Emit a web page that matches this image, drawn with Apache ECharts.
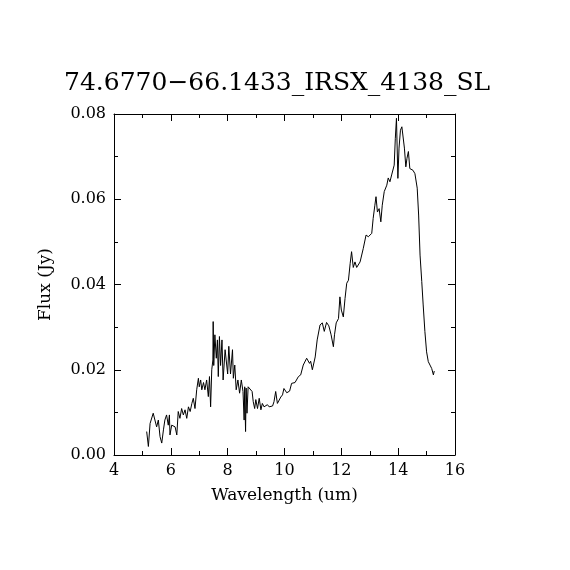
<!DOCTYPE html>
<html>
<head>
<meta charset="utf-8">
<script src="https://cdn.jsdelivr.net/npm/echarts@6/dist/echarts.min.js"></script>
<style>
  html, body { margin: 0; padding: 0; background: #fff; }
  #chart { width: 570px; height: 570px; }
</style>
</head>
<body>
<div id="chart"></div>
<script>
const chartTitle = '74.6770\u221266.1433_IRSX_4138_SL';

// wavelength (um)
const wavelength = [
  5.15, 5.21, 5.27, 5.38, 5.44, 5.50, 5.56, 5.62, 5.68, 5.74, 5.79, 5.85, 5.91, 5.95, 5.97,
  6.03, 6.09, 6.15, 6.21, 6.26, 6.32, 6.38, 6.44, 6.50, 6.56, 6.62, 6.68, 6.74, 6.79, 6.85,
  6.91, 6.97, 7.00, 7.05, 7.09, 7.15, 7.20, 7.26, 7.32, 7.36, 7.40, 7.44, 7.48, 7.49, 7.51,
  7.55, 7.60, 7.64, 7.67, 7.71, 7.75, 7.80, 7.84, 7.91, 7.96, 8.00, 8.04, 8.10, 8.17, 8.20,
  8.25, 8.30, 8.36, 8.42, 8.48, 8.54, 8.58, 8.60, 8.63, 8.65, 8.68, 8.72, 8.79, 8.86, 8.90,
  8.95, 8.99, 9.05, 9.11, 9.17, 9.22, 9.28, 9.34, 9.40, 9.46, 9.52, 9.58, 9.63, 9.69, 9.75, 9.81, 9.87, 9.93,
  9.98, 10.08, 10.18, 10.25, 10.37, 10.49, 10.57, 10.66, 10.78, 10.88, 10.92, 10.98, 11.08, 11.15, 11.25,
  11.33, 11.40, 11.48, 11.56, 11.64, 11.72, 11.76, 11.82, 11.90, 11.95, 12.00, 12.07, 12.13, 12.19, 12.25,
  12.31, 12.36, 12.42, 12.48, 12.54, 12.66, 12.77, 12.87, 12.95, 13.07, 13.12, 13.18, 13.22, 13.27, 13.33,
  13.39, 13.44, 13.51, 13.60, 13.65, 13.71, 13.77, 13.83, 13.86, 13.90, 13.94, 13.99, 14.03, 14.08, 14.13,
  14.17, 14.22, 14.27, 14.31, 14.36, 14.41, 14.46, 14.52, 14.59, 14.67, 14.72, 14.77, 14.83, 14.88, 14.94,
  15.00, 15.06, 15.12, 15.18, 15.24, 15.27
];

// flux (Jy)
const flux = [
  0.0055, 0.0020, 0.0074, 0.0098, 0.0094, 0.0066, 0.0082, 0.0043, 0.0028, 0.0059, 0.0082, 0.0094, 0.0070, 0.0094, 0.0047,
  0.0070, 0.0074, 0.0066, 0.0047, 0.0102, 0.0086, 0.0109, 0.0094, 0.0106, 0.0086, 0.0113, 0.0102, 0.0121, 0.0133, 0.0109,
  0.0153, 0.0180, 0.0160, 0.0176, 0.0153, 0.0170, 0.0153, 0.0176, 0.0137, 0.0184, 0.0113, 0.0200, 0.0223, 0.0313, 0.0210,
  0.0282, 0.0227, 0.0270, 0.0184, 0.0278, 0.0210, 0.0270, 0.0176, 0.0247, 0.0251, 0.0190, 0.0255, 0.0190, 0.0247, 0.0180,
  0.0211, 0.0153, 0.0176, 0.0145, 0.0176, 0.0149, 0.0082, 0.0160, 0.0055, 0.0157, 0.0098, 0.0160, 0.0157, 0.0149, 0.0125,
  0.0109, 0.0130, 0.0109, 0.0133, 0.0106, 0.0121, 0.0113, 0.0110, 0.0118, 0.0113, 0.0117, 0.0115, 0.0125, 0.0149, 0.0121, 0.0125, 0.0136, 0.0141,
  0.0156, 0.0146, 0.0150, 0.0168, 0.0170, 0.0184, 0.0188, 0.0211, 0.0227, 0.0215, 0.0220, 0.0200, 0.0230, 0.0270, 0.0305,
  0.0310, 0.0290, 0.0311, 0.0303, 0.0282, 0.0254, 0.0282, 0.0310, 0.0320, 0.0371, 0.0340, 0.0324, 0.0367, 0.0403, 0.0410,
  0.0449, 0.0477, 0.0440, 0.0453, 0.0440, 0.0453, 0.0484, 0.0516, 0.0512, 0.0520, 0.0555, 0.0586, 0.0606, 0.0570, 0.0578,
  0.0547, 0.0586, 0.0618, 0.0633, 0.0650, 0.0641, 0.0657, 0.0660, 0.0680, 0.0743, 0.0790, 0.0649, 0.0720, 0.0762, 0.0770,
  0.0774, 0.0720, 0.0676, 0.0696, 0.0712, 0.0672, 0.0676, 0.0668, 0.0660, 0.0626, 0.0563, 0.0469, 0.0407, 0.0352, 0.0290,
  0.0242, 0.0219, 0.0211, 0.0203, 0.0188, 0.0197
];

const xMin = 4, xMax = 16, xStep = 2;
const yMin = 0, yMax = 0.08, yStep = 0.02;

const points = wavelength.map((w, i) => [w, flux[i]]);

const chart = echarts.init(document.getElementById('chart'));
const fontFam = '"DejaVu Serif", "Liberation Serif", serif';

function axisBase(show) {
  return {
    axisLine: { show: true, onZero: false, lineStyle: { color: '#000', width: 1 } },
    axisTick: { show: true, inside: true, length: 7, lineStyle: { color: '#000' } },
    minorTick: { show: true, splitNumber: 2, length: 4, lineStyle: { color: '#000' } },
    splitLine: { show: false },
    axisLabel: { show: show, color: '#000', fontFamily: fontFam, fontSize: 16 }
  };
}

chart.setOption({
  animation: false,
  backgroundColor: '#fff',
  title: {
    text: chartTitle,
    left: 59,
    top: 66,
    textStyle: { fontFamily: fontFam, fontSize: 25, fontWeight: 'normal', color: '#000' }
  },
  grid: { left: 114, top: 114, width: 341, height: 341 },
  xAxis: [
    Object.assign(axisBase(true), {
      type: 'value', min: xMin, max: xMax, interval: xStep, position: 'bottom',
      name: 'Wavelength (um)', nameLocation: 'middle', nameGap: 32,
      nameTextStyle: { fontFamily: fontFam, fontSize: 17, color: '#000' }
    }),
    Object.assign(axisBase(false), {
      type: 'value', min: xMin, max: xMax, interval: xStep, position: 'top'
    })
  ],
  yAxis: [
    Object.assign(axisBase(true), {
      type: 'value', min: yMin, max: yMax, interval: yStep, position: 'left',
      name: 'Flux (Jy)', nameLocation: 'middle', nameGap: 60,
      nameTextStyle: { fontFamily: fontFam, fontSize: 17, color: '#000' }
    }),
    Object.assign(axisBase(false), {
      type: 'value', min: yMin, max: yMax, interval: yStep, position: 'right'
    })
  ],
  series: [{
    type: 'line',
    data: points,
    xAxisIndex: 0,
    yAxisIndex: 0,
    showSymbol: false,
    symbol: 'none',
    lineStyle: { color: '#000', width: 1 }
  }]
});
chart.setOption({
  yAxis: [{ axisLabel: { formatter: v => v.toFixed(2) } }, {}]
});
</script>
</body>
</html>
